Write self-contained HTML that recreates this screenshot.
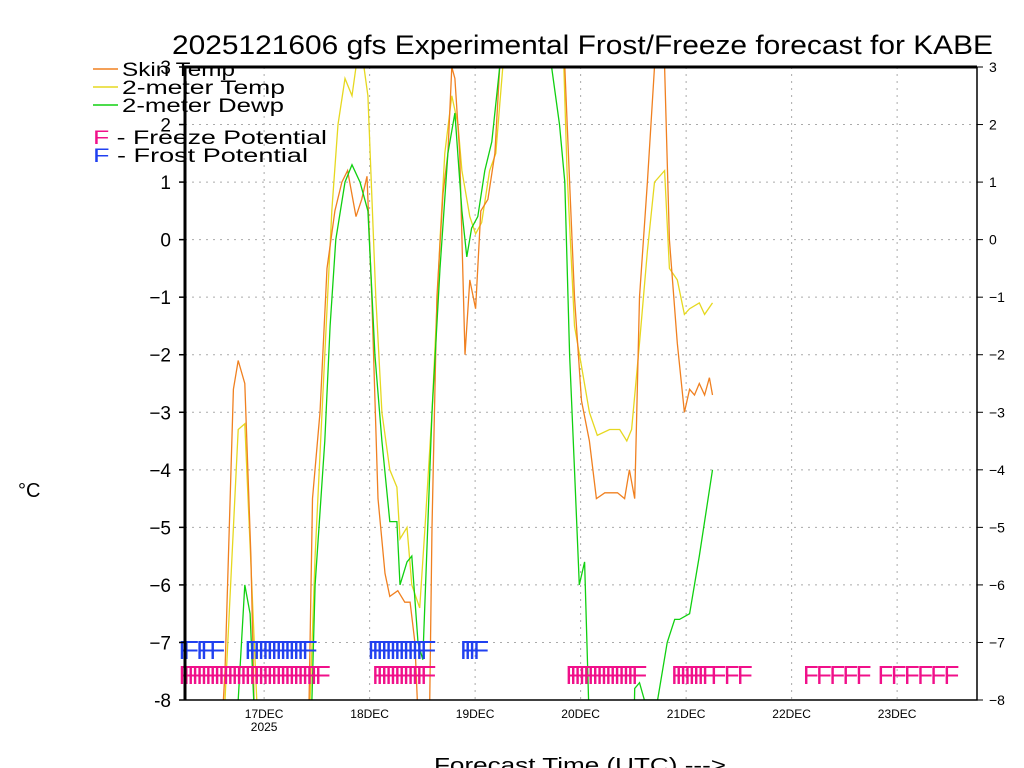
<!DOCTYPE html>
<html><head><meta charset="utf-8"><style>
html,body{margin:0;padding:0;background:#fff;}
svg{display:block;font-family:"Liberation Sans",sans-serif;}
</style></head><body>
<svg id="chart" width="1024" height="768" viewBox="0 0 1024 768" xmlns="http://www.w3.org/2000/svg">
<defs><clipPath id="plotclip"><rect x="185" y="67" width="792" height="633"/></clipPath></defs>
<g id="grid"></g>
<g id="series" clip-path="url(#plotclip)"></g>
<g id="markers"></g>
<g id="axes"></g>
<text x="172" y="54" font-size="27" textLength="821" lengthAdjust="spacingAndGlyphs">2025121606 gfs Experimental Frost/Freeze forecast for KABE</text>
<text x="18" y="497" font-size="20">°C</text>
<text x="434" y="772" font-size="20" textLength="292" lengthAdjust="spacingAndGlyphs">Forecast Time (UTC) ---&gt;</text>
<g>
<line x1="93" y1="69" x2="118" y2="69" stroke="#f08020" stroke-width="1.5"/>
<text x="122" y="76" font-size="19" textLength="113" lengthAdjust="spacingAndGlyphs">Skin Temp</text>
<line x1="93" y1="87" x2="118" y2="87" stroke="#e6d820" stroke-width="1.5"/>
<text x="122" y="94" font-size="19" textLength="163" lengthAdjust="spacingAndGlyphs">2-meter Temp</text>
<line x1="93" y1="105" x2="118" y2="105" stroke="#10d010" stroke-width="1.5"/>
<text x="122" y="112" font-size="19" textLength="162" lengthAdjust="spacingAndGlyphs">2-meter Dewp</text>
<text x="93" y="144" font-size="19" textLength="234" lengthAdjust="spacingAndGlyphs"><tspan fill="#f0108a">F</tspan> - Freeze Potential</text>
<text x="93" y="162" font-size="19" textLength="215" lengthAdjust="spacingAndGlyphs"><tspan fill="#2040f0">F</tspan> - Frost Potential</text>
</g>
</svg>
<script>
// time in hours since 16DEC 06Z
const skinHours=[0,8,9.1,11,12.1,13.6,15,16,28,29,30.7,32.3,34.1,35.7,37,38.9,40.2,41.4,42.5,43.9,45.5,46.6,48.4,50,51.2,52.3,53.4,55.5,56.2,57.3,58.7,59.8,60.7,61.4,62.5,63.7,64.8,66.1,67.3,68.9,70.5,71.6,73,84,86.4,87.5,88.6,90.2,92,93.6,95.5,98.4,100,101.1,102.3,103.4,105.2,106.8,107.5,109.1,110.2,112,113.6,114.8,115.9,117,118.2,119.3,120];
const skinTemp=[-9,-9,-7.5,-2.6,-2.1,-2.5,-5.5,-9,-9,-4.5,-3,-0.5,0.5,1.0,1.2,0.4,0.7,1.1,-1,-4.5,-5.8,-6.2,-6.1,-6.3,-6.3,-7,-9,-9,-5,-1,0.8,1.5,3,2.8,1.5,-2,-0.7,-1.2,0.5,0.7,1.5,3,6,6,3,1,-1,-2.8,-3.5,-4.5,-4.4,-4.4,-4.5,-4,-4.5,-1,1,3,5,3,0,-1.8,-3.0,-2.6,-2.7,-2.5,-2.7,-2.4,-2.7];
const tempHours=[0,9,9.1,12.1,13.6,15.2,16.6,28,29.6,31.8,33.4,34.8,36.4,38,39.8,41.6,43.4,44.8,46.6,48.2,48.9,50.5,51.6,53.4,54.6,56.2,58,59.1,60.7,62.1,63,64.8,66.1,67.5,69.3,70.7,72.3,74,85,86.9,88.6,90.2,92,93.8,96.6,98.9,100.5,101.6,103.4,105.2,106.8,109.1,110.2,112,113.6,114.8,117,118.2,120];
const temp2m=[-9,-9,-8,-3.3,-3.2,-6,-8.5,-9,-5.5,-2,0.5,2,2.8,2.5,3.5,2.5,-1,-3,-4,-4.3,-5.2,-5,-6,-6.4,-5,-3,0,1.5,2.5,2.0,1.2,0.4,0.1,0.3,1.2,1.5,3,6,6,1.2,-1.5,-2.2,-3,-3.4,-3.3,-3.3,-3.5,-3.3,-1.8,-0.2,1.0,1.2,-0.5,-0.7,-1.3,-1.2,-1.1,-1.3,-1.1];
const dewpHours=[0,11.5,12.1,13.6,14.8,15.9,28.5,29.6,31.8,33,34.3,36.4,38,39.8,41.6,43.2,44.8,46.6,48.2,48.9,50.5,51.6,53,54.1,56.2,58,59.8,61.4,63,64.1,65.2,66.6,68.2,69.8,71.6,73,80,83.4,85.2,86.4,87.5,88.6,89.7,90.9,92,102,102.3,103.4,104.5,107.5,109.7,111.4,112.5,114.8,117,120];
const dewp2m=[-9,-9,-8,-6,-6.5,-8.5,-9,-6,-3.5,-1.5,0,1.0,1.3,1.0,0.5,-2,-3.5,-4.9,-4.9,-6,-5.6,-5.5,-7,-7.3,-3,-0.5,1.5,2.2,0.5,-0.3,0.2,0.4,1.2,1.7,3,6,6,3,2,1,-2,-4,-6,-5.6,-8.5,-9,-7.8,-7.7,-8,-8,-7,-6.6,-6.6,-6.5,-5.5,-4.0];
const frostHours=[-1,0,3,4,6,14,15,16,17,18,19,20,21,22,23,24,25,26,27,42,43,44,45,46,47,48,49,50,51,52,53,54,63,64,65,66];
const freezeHours=[-1,0,1,2,3,4,5,6,7,8,9,10,11,12,13,14,15,16,17,18,19,20,21,22,23,24,25,26,27,28,29,30,43,44,45,46,47,48,49,50,51,52,53,54,87,88,89,90,91,92,93,94,95,96,97,98,99,100,101,102,111,112,113,114,115,116,117,118,120,123,126,141,144,147,150,153,158,161,164,167,170,173];
const yTicks=[3,2,1,0,-1,-2,-3,-4,-5,-6,-7,-8];
const dayLabels=["17DEC","18DEC","19DEC","20DEC","21DEC","22DEC","23DEC"];
const dayHours=[18,42,66,90,114,138,162];

const NS="http://www.w3.org/2000/svg";
const X0=185,X1=977,Y0=67,Y1=700,PXH=105.5/24;
const xs=h=>X0+h*PXH;
const ys=v=>Y0+(3-v)*(Y1-Y0)/11;
function mk(tag,attrs,parent){const e=document.createElementNS(NS,tag);for(const k in attrs)e.setAttribute(k,attrs[k]);parent.appendChild(e);return e;}
const grid=document.getElementById('grid'),axes=document.getElementById('axes'),series=document.getElementById('series'),markers=document.getElementById('markers');

yTicks.forEach(v=>{
  if(v<3&&v>-8){const l=mk('line',{x1:X0,x2:X1,y1:ys(v),y2:ys(v),stroke:'#aaa','stroke-dasharray':'2,5'},grid);
  
  }
  const t=mk('text',{x:171,y:ys(v)+7,'font-size':19,'text-anchor':'end'},axes);t.textContent=v===-8?'-8':(v<0?'\u2212'+(-v):String(v));
  
  
  const t2=mk('text',{x:989,y:ys(v)+5,'font-size':14},axes);t2.textContent=v<0?'\u2212'+(-v):String(v);
  
  
  const tk=mk('line',{x1:X0-6,x2:X0,y1:ys(v),y2:ys(v),stroke:'#000','stroke-width':1.5},axes);
  
  
  const tk2=mk('line',{x1:X1,x2:X1+6,y1:ys(v),y2:ys(v),stroke:'#000'},axes);
  
  
});
dayHours.forEach((h,i)=>{
  const l=mk('line',{x1:xs(h),x2:xs(h),y1:Y0,y2:Y1,stroke:'#aaa','stroke-dasharray':'2,5'},grid);
  
  
  const t=mk('text',{x:xs(h),y:718,'font-size':12,'text-anchor':'middle'},axes);t.textContent=dayLabels[i];
  
  
});
const yr=mk('text',{x:xs(18),y:731,'font-size':12,'text-anchor':'middle'},axes);yr.textContent='2025';



function line(hs,vs,color,name){
  const d=hs.map((h,i)=>(i?'L':'M')+xs(h).toFixed(1)+','+ys(vs[i]).toFixed(1)).join('');
  const p=mk('path',{d:d,fill:'none',stroke:color,'stroke-width':1.3},series);
  
  
}
line(tempHours,temp2m,'#e6d820','temp-2m-line');
line(skinHours,skinTemp,'#f08020','skin-temp-line');
line(dewpHours,dewp2m,'#10d010','dewpoint-2m-line');

frostHours.forEach(h=>{const t=mk('text',{x:xs(h)-2,y:659,'font-size':26,fill:'#2040f0'},markers);t.textContent='F';
  
  });
freezeHours.forEach(h=>{const t=mk('text',{x:xs(h)-2,y:684,'font-size':26,fill:'#f0108a'},markers);t.textContent='F';
  
  });

const fr=mk('path',{d:`M${X0},${Y1}L${X0},${Y0}L${X1},${Y0}`,fill:'none',stroke:'#000','stroke-width':3},axes);


const fb=mk('path',{d:`M${X0},${Y1}L${X1},${Y1}L${X1},${Y0}`,fill:'none',stroke:'#000','stroke-width':1.5},axes);


</script>
</body></html>
